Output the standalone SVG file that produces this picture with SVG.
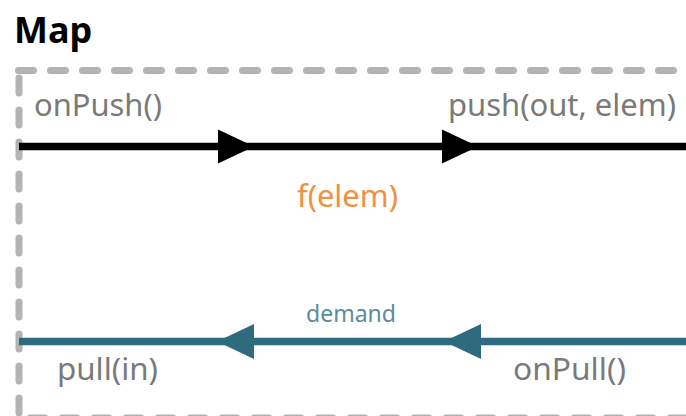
<svg xmlns="http://www.w3.org/2000/svg" width="686" height="416" viewBox="0 0 686 416">
<style>
.lbl{font-family:"Noto Sans","Open Sans","Liberation Sans",sans-serif;fill:#7a7a7a;font-size:30.5px}
.ttl{font-family:"Noto Sans","Open Sans","Liberation Sans",sans-serif;font-weight:bold;font-size:36px;fill:#000}
.fx{font-family:"Noto Sans","Open Sans","Liberation Sans",sans-serif;fill:#f0913f;font-size:30.5px}
.dm{font-family:"Noto Sans","Open Sans","Liberation Sans",sans-serif;fill:#5a8c9b;font-size:23px}
.border{fill:none;stroke:#b3b3b3;stroke-width:7;stroke-dasharray:15 17;stroke-linecap:round}
.push{fill:none;stroke:#000;stroke-width:7.5;marker-mid:url(#ah-black)}
.pull{fill:none;stroke:#2e6b7e;stroke-width:7.5;marker-mid:url(#ah-teal)}
</style>
<defs>
<marker id="ah-black" markerUnits="userSpaceOnUse" viewBox="0 0 36 34" markerWidth="36" markerHeight="34" refX="36" refY="17" orient="auto" overflow="visible">
<path d="M0,0 L36,17 L0,34 Z" fill="#000"/>
</marker>
<marker id="ah-teal" markerUnits="userSpaceOnUse" viewBox="0 0 37 35" markerWidth="37" markerHeight="35" refX="37" refY="17.5" orient="auto" overflow="visible">
<path d="M0,0 L37,17.5 L0,35 Z" fill="#2e6b7e"/>
</marker>
</defs>
<g id="map-stage">
<path class="border" d="M18.5,70.5 H700"/>
<path class="border" d="M19,78 V430"/>
<path class="border" d="M30,418 H700"/>
<text class="ttl" x="14" y="43">Map</text>
</g>
<g id="connectors">
<polyline class="push" points="19,146.5 254,146.5 478,146.5 700,146.5"/>
<polyline class="pull" points="700,341.5 444,341.5 217,341.5 19,341.5"/>
</g>
<g id="labels">
<text class="lbl" x="34" y="116" textLength="128" lengthAdjust="spacingAndGlyphs">onPush()</text>
<text class="lbl" x="448" y="116" textLength="228" lengthAdjust="spacingAndGlyphs">push(out, elem)</text>
<text class="fx" x="297" y="207" textLength="101" lengthAdjust="spacingAndGlyphs">f(elem)</text>
<text class="dm" x="306" y="322" textLength="90" lengthAdjust="spacingAndGlyphs">demand</text>
<text class="lbl" x="57" y="380" textLength="101" lengthAdjust="spacingAndGlyphs">pull(in)</text>
<text class="lbl" x="513" y="380" textLength="113" lengthAdjust="spacingAndGlyphs">onPull()</text>
</g>
</svg>
